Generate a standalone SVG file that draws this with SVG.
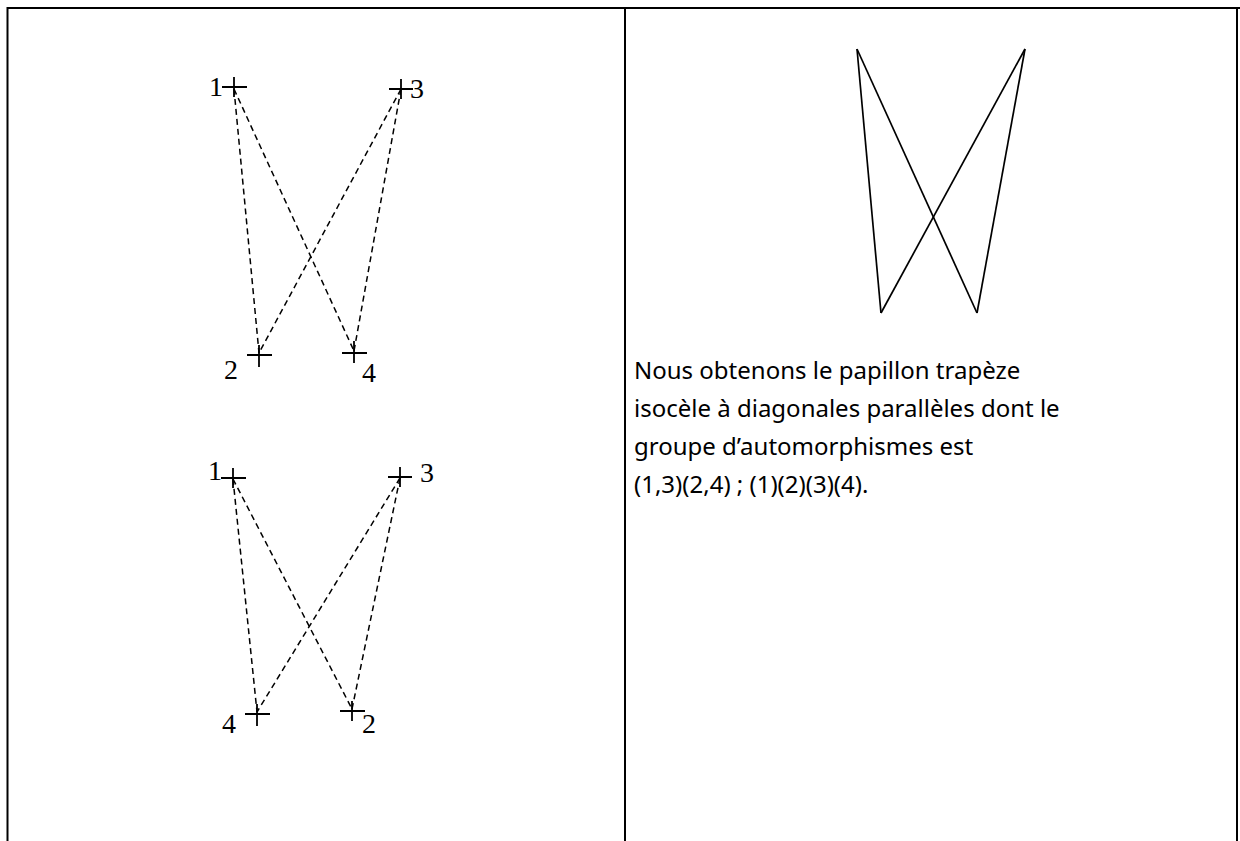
<svg xmlns="http://www.w3.org/2000/svg" width="1240" height="841" viewBox="0 0 1240 841">
<style>
.frame{stroke:#000;stroke-width:2;fill:none}
.dash{stroke:#000;stroke-width:1.5;stroke-dasharray:6 4;fill:none}
.solid{stroke:#000;stroke-width:1.7;fill:none}
.cross{stroke:#000;stroke-width:1.8;fill:none}
.lbl{font-family:"Liberation Serif","Times New Roman",serif;font-size:28px;fill:#000}
.txt{font-family:"Comic Sans MS","Noto Sans",sans-serif;font-size:24px;fill:#000}
</style>
<rect width="1240" height="841" fill="#fff"/>
<g id="frame">
<line class="frame" x1="7" y1="8" x2="1240" y2="8"/>
<line class="frame" x1="7.5" y1="7" x2="7.5" y2="841"/>
<line class="frame" x1="625" y1="7" x2="625" y2="841"/>
<line class="frame" x1="1237" y1="7" x2="1237" y2="841"/>
</g>
<g id="connectors">
<line class="dash" x1="234" y1="89" x2="259" y2="353"/>
<line class="dash" x1="234" y1="89" x2="354" y2="351"/>
<line class="dash" x1="401" y1="89" x2="259" y2="353"/>
<line class="dash" x1="401" y1="89" x2="354" y2="351"/>
<line class="dash" x1="233" y1="479" x2="257" y2="712"/>
<line class="dash" x1="233" y1="479" x2="352" y2="709"/>
<line class="dash" x1="400" y1="478" x2="257" y2="712"/>
<line class="dash" x1="400" y1="478" x2="352" y2="709"/>
<line class="solid" x1="857" y1="49" x2="881" y2="313"/>
<line class="solid" x1="857" y1="49" x2="977" y2="313"/>
<line class="solid" x1="1025" y1="49" x2="881" y2="313"/>
<line class="solid" x1="1025" y1="49" x2="977" y2="313"/>
</g>
<g id="top-n1"><path class="cross" d="M222 87H247M234 77V97"/><text class="lbl" x="223" y="96" text-anchor="end">1</text></g>
<g id="top-n3"><path class="cross" d="M389 89H413M401 79V99"/><text class="lbl" x="410" y="98">3</text></g>
<g id="top-n2"><path class="cross" d="M247 355H272M259 345V367"/><text class="lbl" x="224" y="379">2</text></g>
<g id="top-n4"><path class="cross" d="M342 353H367M354 341V363"/><text class="lbl" x="362" y="382">4</text></g>
<g id="bot-n1"><path class="cross" d="M221 478H246M233 468V488"/><text class="lbl" x="222" y="480" text-anchor="end">1</text></g>
<g id="bot-n3"><path class="cross" d="M388 477H412M400 467V487"/><text class="lbl" x="420" y="482">3</text></g>
<g id="bot-n4"><path class="cross" d="M245 714H270M257 704V726"/><text class="lbl" x="222" y="733">4</text></g>
<g id="bot-n2"><path class="cross" d="M340 711H365M352 701V721"/><text class="lbl" x="362" y="733">2</text></g>
<g id="caption">
<text class="txt" x="634" y="379">Nous obtenons le papillon trapèze</text>
<text class="txt" x="634" y="417">isocèle à diagonales parallèles dont le</text>
<text class="txt" x="634" y="455">groupe d’automorphismes est</text>
<text class="txt" x="634" y="493">(1,3)(2,4) ; (1)(2)(3)(4).</text>
</g>
</svg>
